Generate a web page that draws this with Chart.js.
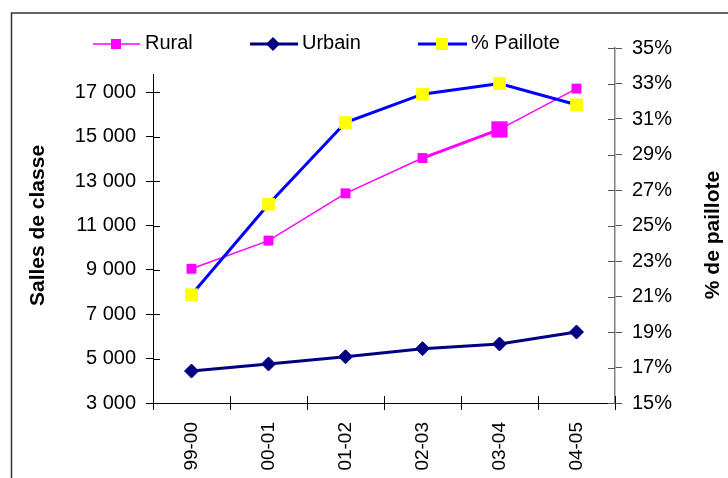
<!DOCTYPE html>
<html>
<head>
<meta charset="utf-8">
<script src="https://cdn.jsdelivr.net/npm/chart.js@4/dist/chart.umd.min.js"></script>
<style>
  body { margin: 0; background: #fff; }
  canvas { display: block; }
</style>
</head>
<body>
<canvas id="myChart" width="728" height="478"></canvas>
<script>
const categories = ['99-00', '00-01', '01-02', '02-03', '03-04', '04-05'];
const rural = [9050, 10320, 12450, 14040, 15330, 17170];
const urbain = [4440, 4760, 5085, 5450, 5660, 6200];
const paillote = [21.1, 26.2, 30.8, 32.4, 33.0, 31.8];

const leftMin = 3000, leftMax = 19000, leftStep = 2000;
const rightMin = 15, rightMax = 35, rightStep = 2;

const FONT = "'Liberation Sans', Arial, sans-serif";

// thousands with a space, like the original (17 000)
function spaced(v){
  return String(v).replace(/\B(?=(\d{3})+(?!\d))/g, ' ');
}

// excel style: ticks cross the axis, legend box on top, frame round the chart
const excelBits = {
  id: 'excelBits',
  beforeDraw(chart){
    const c = chart.ctx;
    c.save();
    c.strokeStyle = '#333';
    c.lineWidth = 1.5;
    c.beginPath();
    c.moveTo(11.5, 478);
    c.lineTo(11.5, 13);
    c.lineTo(728, 13);
    c.stroke();
    c.restore();
  },
  afterDraw(chart){
    const c = chart.ctx;
    const area = chart.chartArea;
    const x = chart.scales.x, y = chart.scales.y, y1 = chart.scales.y1;
    c.save();
    c.lineWidth = 1;

    // inner half of the ticks
    c.strokeStyle = '#000';
    c.beginPath();
    y.ticks.forEach((t, i) => {
      const py = Math.round(y.getPixelForTick(i)) + 0.5;
      c.moveTo(area.left, py); c.lineTo(area.left + 7, py);
    });
    for (let i = 0; i <= categories.length; i++){
      const px = Math.round(area.left + (area.right - area.left) * i / categories.length) + 0.5;
      c.moveTo(px, area.bottom); c.lineTo(px, area.bottom - 7);
    }
    c.stroke();
    c.strokeStyle = '#555';
    c.beginPath();
    y1.ticks.forEach((t, i) => {
      const py = Math.round(y1.getPixelForTick(i)) + 0.5;
      c.moveTo(area.right, py); c.lineTo(area.right - 7, py);
    });
    c.stroke();

    // right axis title, reads bottom to top
    c.fillStyle = '#000';
    c.font = 'bold 21px ' + FONT;
    c.textAlign = 'center';
    c.textBaseline = 'middle';
    c.translate(713, 235);
    c.rotate(-Math.PI / 2);
    c.fillText('% de paillote', 0, 0);
    c.setTransform(1, 0, 0, 1, 0, 0);

    // legend box (white, hides the top of the left axis like in excel)
    c.fillStyle = '#fff';
    c.fillRect(40, 20, 560, 54);

    const ly = 44;
    c.font = '20px ' + FONT;
    c.textAlign = 'left';
    c.textBaseline = 'middle';

    // Rural
    c.strokeStyle = '#FF00FF'; c.lineWidth = 1.5;
    c.beginPath(); c.moveTo(93, ly); c.lineTo(140, ly); c.stroke();
    c.fillStyle = '#FF00FF'; c.fillRect(111, ly - 5, 10, 10);
    c.fillStyle = '#000'; c.fillText('Rural', 145, ly - 1);

    // Urbain
    c.strokeStyle = '#000080'; c.lineWidth = 3;
    c.beginPath(); c.moveTo(250, ly); c.lineTo(298, ly); c.stroke();
    c.fillStyle = '#000080';
    c.beginPath();
    c.moveTo(273 - 7, ly); c.lineTo(273, ly - 7); c.lineTo(273 + 7, ly); c.lineTo(273, ly + 7);
    c.closePath(); c.fill();
    c.fillStyle = '#000'; c.fillText('Urbain', 302, ly - 1);

    // % Paillote
    c.strokeStyle = '#0000FF'; c.lineWidth = 3;
    c.beginPath(); c.moveTo(418, ly); c.lineTo(467, ly); c.stroke();
    c.fillStyle = '#FFFF00'; c.fillRect(436, ly - 6, 12, 12);
    c.fillStyle = '#000'; c.fillText('% Paillote', 471, ly - 1);

    c.restore();
  }
};

function makeChart(){
  const data = {
    labels: categories,
    datasets: [
      {
        label: 'Rural',
        data: rural,
        yAxisID: 'y',
        borderColor: '#FF00FF',
        backgroundColor: '#FF00FF',
        borderWidth: 1.5,
        segment: { borderWidth: ctx => ctx.p0DataIndex === 3 ? 3 : 1.5 },
        pointStyle: 'rect',
        pointRadius: [7, 7, 7, 7, 11.5, 7],
        pointBorderWidth: 0,
        order: 1
      },
      {
        label: 'Urbain',
        data: urbain,
        yAxisID: 'y',
        borderColor: '#000080',
        backgroundColor: '#000080',
        borderWidth: 3,
        pointStyle: 'rectRot',
        pointRadius: 7,
        pointBorderWidth: 1,
        order: 2
      },
      {
        label: '% Paillote',
        data: paillote,
        yAxisID: 'y1',
        borderColor: '#0000FF',
        backgroundColor: '#FFFF00',
        borderWidth: 3,
        pointStyle: 'rect',
        pointRadius: 9,
        pointBorderWidth: 0,
        pointBorderColor: '#FFFF00',
        order: 0
      }
    ]
  };

  return new Chart(document.getElementById('myChart'), {
    type: 'line',
    data: data,
    options: {
      responsive: false,
      animation: false,
      devicePixelRatio: 1,
      layout: { padding: { top: 48, left: 0, right: 0, bottom: 0 } },
      plugins: { legend: { display: false }, tooltip: { enabled: false } },
      elements: { line: { tension: 0 } },
      scales: {
        x: {
          offset: true,
          grid: { offset: true, drawOnChartArea: false, tickLength: 7, color: '#000' },
          border: { color: '#000', width: 1 },
          ticks: { minRotation: 90, maxRotation: 90, padding: 12, color: '#000', font: { family: FONT, size: 19 } },
          afterFit: s => { s.height = 75; }
        },
        y: {
          position: 'left',
          min: leftMin,
          max: leftMax,
          grid: { drawOnChartArea: false, tickLength: 7, color: '#000' },
          border: { color: '#000', width: 1 },
          ticks: { stepSize: leftStep, padding: 10, color: '#000', font: { family: FONT, size: 20 }, callback: v => spaced(v) },
          title: { display: true, text: 'Salles de classe', color: '#000', font: { family: FONT, size: 21, weight: 'bold' }, padding: { top: 26, bottom: 0 } },
          afterFit: s => { s.width = 153; }
        },
        y1: {
          position: 'right',
          min: rightMin,
          max: rightMax,
          grid: { drawOnChartArea: false, tickLength: 7, color: '#555' },
          border: { color: '#808080', width: 1.5 },
          ticks: { stepSize: rightStep, padding: 10, color: '#000', font: { family: FONT, size: 20 }, callback: v => v + '%' },
          afterFit: s => { s.width = 113; }
        }
      }
    },
    plugins: [excelBits]
  });
}

makeChart()
</script>
</body>
</html>
